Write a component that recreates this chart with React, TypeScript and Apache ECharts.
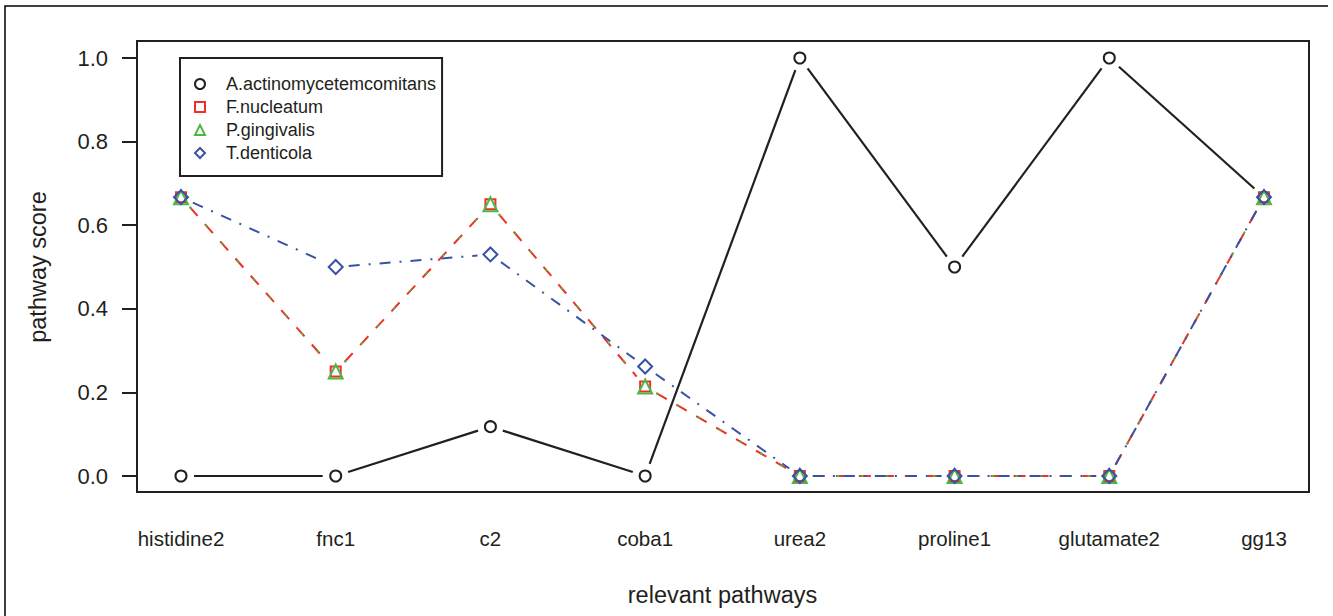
import React, { useEffect, useRef } from "react";
import * as echarts from "echarts";

const categories = ["histidine2", "fnc1", "c2", "coba1", "urea2", "proline1", "glutamate2", "gg13"];
const seriesNames = ["A.actinomycetemcomitans", "F.nucleatum", "P.gingivalis", "T.denticola"];
const aValues = [0, 0, 0.118, 0, 1, 0.5, 1, 0.667];
const fValues = [0.667, 0.25, 0.65, 0.214, 0, 0, 0, 0.667];
const pValues = [0.667, 0.25, 0.65, 0.214, 0, 0, 0, 0.667];
const tValues = [0.667, 0.5, 0.53, 0.262, 0, 0, 0, 0.667];
const yTicks = [0, 0.2, 0.4, 0.6, 0.8, 1.0];

const INK = "#231F20";
const FONT = "'Liberation Sans', Arial, Helvetica, sans-serif";

const styles = [
  { color: INK, symbol: "circle", size: 11, dash: null as number[] | null, width: 2.2 },
  { color: "#EE3124", symbol: "rect", size: 10, dash: [12, 11], width: 2 },
  { color: "#4DB848", symbol: "triangle", size: 14, dash: [2.5, 21.5], width: 2 },
  { color: "#3953A4", symbol: "diamond", size: 14, dash: [11, 9, 2, 9], width: 2 },
];
const allValues = [aValues, fValues, pValues, tValues];

// gap left between a line segment and the point markers it connects
const GAP = 13;

export default function App() {
  const ref = useRef<HTMLDivElement>(null);

  useEffect(() => {
    if (!ref.current) return;
    const chart = echarts.init(ref.current, null, { renderer: "svg" });

    const segmentSeries = allValues.map((vals, s) => ({
      type: "custom",
      name: seriesNames[s] + " line",
      z: 2,
      silent: true,
      data: vals.map((v, i) => [i, v]),
      renderItem: (params: any, api: any) => {
        const i = params.dataIndex;
        if (i >= vals.length - 1) return null;
        const p0 = api.coord([i, vals[i]]);
        const p1 = api.coord([i + 1, vals[i + 1]]);
        const dx = p1[0] - p0[0];
        const dy = p1[1] - p0[1];
        const len = Math.sqrt(dx * dx + dy * dy);
        if (len <= 2 * GAP) return null;
        const ux = dx / len;
        const uy = dy / len;
        return {
          type: "line",
          shape: {
            x1: p0[0] + ux * GAP,
            y1: p0[1] + uy * GAP,
            x2: p1[0] - ux * GAP,
            y2: p1[1] - uy * GAP,
          },
          style: {
            stroke: styles[s].color,
            lineWidth: styles[s].width,
            lineDash: styles[s].dash || undefined,
            fill: "none",
          },
        };
      },
    }));

    const pointSeries = allValues.map((vals, s) => ({
      type: "line",
      name: seriesNames[s],
      z: 3,
      data: vals,
      symbol: styles[s].symbol,
      symbolSize: styles[s].size,
      showSymbol: true,
      lineStyle: { width: 0, opacity: 0 },
      itemStyle: {
        color: "rgba(255,255,255,0)",
        borderColor: styles[s].color,
        borderWidth: 2,
      },
      emphasis: { disabled: true },
    }));

    chart.setOption({
      animation: false,
      backgroundColor: "#ffffff",
      grid: { left: 181, right: 69, top: 58, bottom: 140 },
      xAxis: {
        type: "category",
        data: categories,
        boundaryGap: false,
        axisLine: { show: false },
        axisTick: { show: false },
        splitLine: { show: false },
        axisLabel: {
          interval: 0,
          margin: 62,
          verticalAlign: "middle",
          fontSize: 20.5,
          fontFamily: FONT,
          color: INK,
        },
        name: "relevant pathways",
        nameLocation: "middle",
        nameGap: 107,
        nameTextStyle: { fontSize: 23.5, fontFamily: FONT, color: INK },
      },
      yAxis: {
        type: "value",
        min: yTicks[0],
        max: yTicks[yTicks.length - 1],
        interval: 0.2,
        offset: 44,
        axisLine: { show: false },
        axisTick: { show: true, length: 15, lineStyle: { color: INK, width: 2 } },
        splitLine: { show: false },
        axisLabel: {
          margin: 29,
          fontSize: 22,
          fontFamily: FONT,
          color: INK,
          formatter: (v: number) => v.toFixed(1),
        },
        name: "pathway score",
        nameLocation: "middle",
        nameGap: 87,
        nameTextStyle: { fontSize: 23.5, fontFamily: FONT, color: INK },
      },
      legend: {
        orient: "vertical",
        left: 180,
        top: 58,
        padding: [17, 6, 14, 14],
        borderColor: INK,
        borderWidth: 2,
        itemWidth: 10,
        itemHeight: 10,
        itemGap: 5,
        selectedMode: false,
        data: seriesNames.map((n, i) => ({ name: n, icon: styles[i].symbol })),
        textStyle: {
          fontSize: 18,
          fontFamily: FONT,
          color: INK,
          padding: [0, 0, 0, 16],
        },
      },
      graphic: [
        {
          type: "rect",
          z: 10,
          silent: true,
          shape: { x: 137, y: 41, width: 1172, height: 451 },
          style: { fill: "none", stroke: INK, lineWidth: 2 },
        },
        {
          type: "polyline",
          z: 10,
          silent: true,
          shape: { points: [[5, 616], [5, 6], [1328, 6]] },
          style: { fill: "none", stroke: "#000", lineWidth: 1.5 },
        },
      ],
      series: [...segmentSeries, ...pointSeries],
    });

    return () => chart.dispose();
  }, []);

  return (
    <div
      ref={ref}
      style={{ position: "fixed", left: 0, top: 0, width: 1333, height: 616, background: "#fff" }}
    />
  );
}
